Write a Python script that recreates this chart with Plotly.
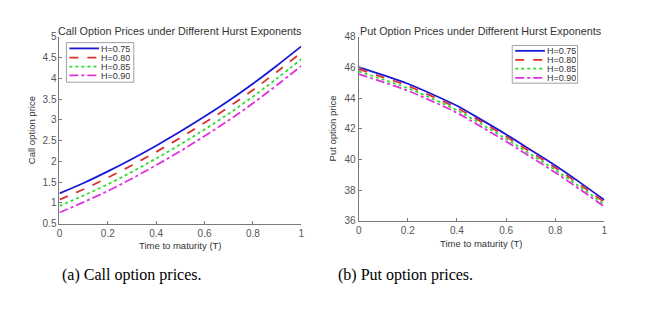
import plotly.graph_objects as go

T = [0.0, 0.1, 0.2, 0.3, 0.4, 0.5, 0.6, 0.7, 0.8, 0.9, 1.0]
labels = ["H=0.75", "H=0.80", "H=0.85", "H=0.90"]

call_h075 = [1.23, 1.48, 1.76, 2.06, 2.38, 2.72, 3.08, 3.46, 3.87, 4.31, 4.77]
call_h080 = [1.08, 1.33, 1.61, 1.91, 2.23, 2.57, 2.93, 3.31, 3.72, 4.16, 4.62]
call_h085 = [0.93, 1.18, 1.45, 1.75, 2.07, 2.41, 2.77, 3.15, 3.56, 4.00, 4.46]
call_h090 = [0.77, 1.02, 1.29, 1.59, 1.91, 2.25, 2.61, 2.99, 3.40, 3.84, 4.30]

put_h075 = [46.03, 45.50, 44.94, 44.25, 43.50, 42.58, 41.63, 40.62, 39.60, 38.50, 37.35]
put_h080 = [45.89, 45.36, 44.80, 44.11, 43.36, 42.44, 41.49, 40.48, 39.46, 38.36, 37.20]
put_h085 = [45.74, 45.21, 44.65, 43.96, 43.21, 42.29, 41.34, 40.33, 39.31, 38.21, 37.05]
put_h090 = [45.57, 45.04, 44.48, 43.79, 43.04, 42.12, 41.17, 40.16, 39.14, 38.05, 36.91]

x_ticks = [0, 0.2, 0.4, 0.6, 0.8, 1]
call_ticks = [0.5, 1, 1.5, 2, 2.5, 3, 3.5, 4, 4.5, 5]
put_ticks = [36, 38, 40, 42, 44, 46, 48]

colors = ["#1a1ad6", "#dd3030", "#2edc2e", "#e030e0"]
dashes = ["solid", "dash", "dot", "dashdot"]

FONT = "Liberation Sans, Arial, sans-serif"
AX = "#7a7a7a"
TXT = "#333333"
W, H = 649, 314

fig = go.Figure()
for i, ys in enumerate([call_h075, call_h080, call_h085, call_h090]):
    fig.add_trace(go.Scatter(x=T, y=ys, mode="lines", name=labels[i], showlegend=False,
                             line=dict(color=colors[i], dash=dashes[i], width=1.8, shape="spline"),
                             xaxis="x", yaxis="y"))
for i, ys in enumerate([put_h075, put_h080, put_h085, put_h090]):
    fig.add_trace(go.Scatter(x=T, y=ys, mode="lines", name=labels[i], showlegend=False,
                             line=dict(color=colors[i], dash=dashes[i], width=1.8, shape="spline"),
                             xaxis="x2", yaxis="y2"))

axcommon = dict(showgrid=False, zeroline=False, showline=True, linecolor=AX, linewidth=1,
                ticks="inside", ticklen=3, tickcolor=AX, mirror=False,
                tickfont=dict(family=FONT, size=10, color="#555555"))

shapes = []
annotations = []


def px(x):
    return x / W


def py(y):
    return 1 - y / H


def text(s, x, y, size, family=FONT, color=TXT, angle=0):
    annotations.append(dict(text=s, x=px(x), y=py(y), xref="paper", yref="paper",
                            showarrow=False, xanchor="center", yanchor="middle", textangle=angle,
                            font=dict(family=family, size=size, color=color)))


# manual compact legends (MATLAB style)
def add_legend(box, line_x0, line_x1, text_x, rows):
    x0, y0, x1, y1 = box
    shapes.append(dict(type="rect", xref="paper", yref="paper",
                       x0=px(x0), x1=px(x1), y0=py(y1), y1=py(y0),
                       line=dict(color="#a0a0a0", width=1), fillcolor="white", layer="above"))
    for i, ry in enumerate(rows):
        shapes.append(dict(type="line", xref="paper", yref="paper",
                           x0=px(line_x0), x1=px(line_x1), y0=py(ry), y1=py(ry),
                           line=dict(color=colors[i], dash=dashes[i], width=1.8), layer="above"))
        annotations.append(dict(text=labels[i], x=px(text_x), y=py(ry), xref="paper", yref="paper",
                                showarrow=False, xanchor="left", yanchor="middle",
                                height=9, borderpad=0, valign="middle",
                                font=dict(family=FONT, size=9, color=TXT)))


add_legend((64, 39, 132, 80), 67, 97, 98, [45.0, 54.5, 63.8, 73.0])
add_legend((514, 42, 580, 81), 517, 547, 548, [47.5, 56.8, 66.0, 75.5])

text("Call Option Prices under Different Hurst Exponents", 179, 27, 10.8)
text("Put Option Prices under Different Hurst Exponents", 482, 27, 10.8)
text("Time to maturity (T)", 179, 249, 9.5)
text("Time to maturity (T)", 483, 247, 9.5)
text("Call option price", 29, 130, 9.5, angle=-90)
text("Put option price", 333, 128, 9.5, angle=-90)
text("(a) Call option prices.", 130, 280, 16, family="Liberation Serif, Times New Roman, serif", color="black")
text("(b) Put option prices.", 406, 280, 16, family="Liberation Serif, Times New Roman, serif", color="black")

fig.update_layout(
    width=W, height=H, margin=dict(l=0, r=0, t=0, b=0),
    paper_bgcolor="white", plot_bgcolor="white",
    font=dict(family=FONT, color=TXT),
    showlegend=False,
    xaxis=dict(domain=[px(57), px(301)], range=[0, 1], tickvals=x_ticks,
               anchor="y", **axcommon),
    yaxis=dict(domain=[py(226.7), py(33)], range=[0.5, 5], tickvals=call_ticks,
               ticktext=[("%g" % v) for v in call_ticks],
               anchor="x", **axcommon),
    xaxis2=dict(domain=[px(359), px(607)], range=[0, 1], tickvals=x_ticks,
                anchor="y2", **axcommon),
    yaxis2=dict(domain=[py(223.5), py(33)], range=[36, 48], tickvals=put_ticks,
                anchor="x2", **axcommon),
    shapes=shapes,
    annotations=annotations,
)

fig.write_html("out.html", config={"displayModeBar": False},
               post_script="document.body.style.margin='0px';document.body.style.overflow='hidden';")
